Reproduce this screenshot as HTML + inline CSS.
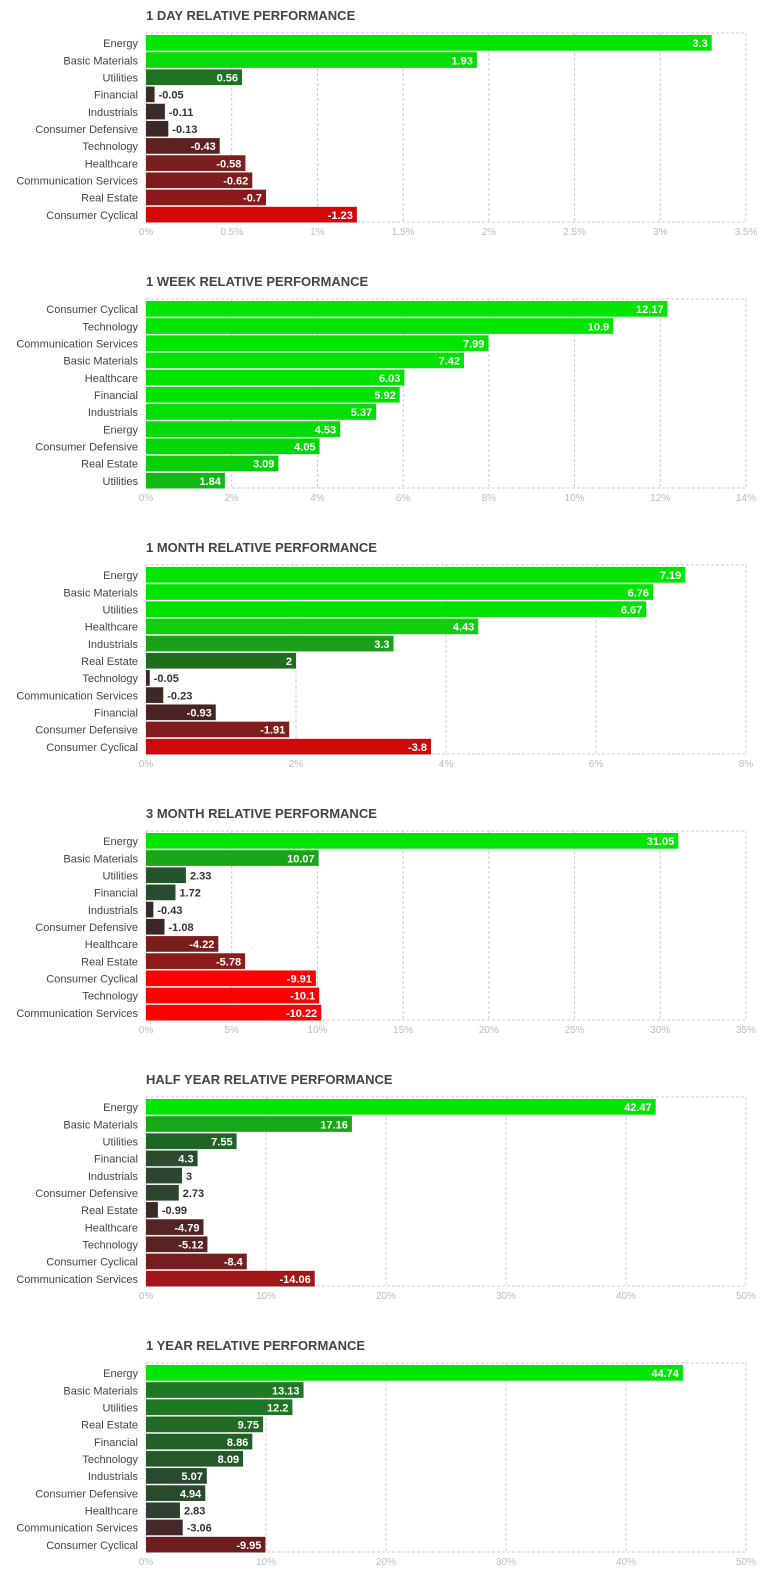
<!DOCTYPE html>
<html><head><meta charset="utf-8"><style>
html,body{margin:0;padding:0;background:#fff;width:775px;height:1583px;overflow:hidden}
svg{display:block}
</style></head><body>
<svg id="chart" width="775" height="1583" xmlns="http://www.w3.org/2000/svg" font-family="'Liberation Sans', sans-serif"></svg>
<script>
const titles = ["1 DAY RELATIVE PERFORMANCE","1 WEEK RELATIVE PERFORMANCE","1 MONTH RELATIVE PERFORMANCE","3 MONTH RELATIVE PERFORMANCE","HALF YEAR RELATIVE PERFORMANCE","1 YEAR RELATIVE PERFORMANCE"];
const cats1 = ["Energy","Basic Materials","Utilities","Financial","Industrials","Consumer Defensive","Technology","Healthcare","Communication Services","Real Estate","Consumer Cyclical"];
const vals1 = [3.3,1.93,0.56,-0.05,-0.11,-0.13,-0.43,-0.58,-0.62,-0.7,-1.23];
const cats2 = ["Consumer Cyclical","Technology","Communication Services","Basic Materials","Healthcare","Financial","Industrials","Energy","Consumer Defensive","Real Estate","Utilities"];
const vals2 = [12.17,10.9,7.99,7.42,6.03,5.92,5.37,4.53,4.05,3.09,1.84];
const cats3 = ["Energy","Basic Materials","Utilities","Healthcare","Industrials","Real Estate","Technology","Communication Services","Financial","Consumer Defensive","Consumer Cyclical"];
const vals3 = [7.19,6.76,6.67,4.43,3.3,2,-0.05,-0.23,-0.93,-1.91,-3.8];
const cats4 = ["Energy","Basic Materials","Utilities","Financial","Industrials","Consumer Defensive","Healthcare","Real Estate","Consumer Cyclical","Technology","Communication Services"];
const vals4 = [31.05,10.07,2.33,1.72,-0.43,-1.08,-4.22,-5.78,-9.91,-10.1,-10.22];
const cats5 = ["Energy","Basic Materials","Utilities","Financial","Industrials","Consumer Defensive","Real Estate","Healthcare","Technology","Consumer Cyclical","Communication Services"];
const vals5 = [42.47,17.16,7.55,4.3,3,2.73,-0.99,-4.79,-5.12,-8.4,-14.06];
const cats6 = ["Energy","Basic Materials","Utilities","Real Estate","Financial","Technology","Industrials","Consumer Defensive","Healthcare","Communication Services","Consumer Cyclical"];
const vals6 = [44.74,13.13,12.2,9.75,8.86,8.09,5.07,4.94,2.83,-3.06,-9.95];
const ticks1 = [0,0.5,1,1.5,2,2.5,3,3.5];
const ticks2 = [0,2,4,6,8,10,12,14];
const ticks3 = [0,2,4,6,8];
const ticks4 = [0,5,10,15,20,25,30,35];
const ticks5 = [0,10,20,30,40,50];
const ticks6 = [0,10,20,30,40,50];
const colors1 = ["#00e600","#08dc08","#1e741e","#3a2a2a","#3b2a2a","#3d2828","#5c2222","#7a1e1e","#7d1d1d","#8a1a1a","#d40808"];
const colors2 = ["#00e600","#00e600","#00e600","#00e600","#00e200","#00e200","#02df02","#03dc03","#04d804","#08d008","#12b912"];
const colors3 = ["#00e600","#00e600","#00e200","#0fcf0f","#1ba01b","#1f6e1f","#3a2a2a","#3b2929","#4a2424","#801d1d","#cc0a0a"];
const colors4 = ["#00e600","#18a518","#24552a","#2a4a2e","#332c2c","#3a2828","#7a1d1d","#8f1a1a","#ff0000","#ff0000","#ff0000"];
const colors5 = ["#00e600","#17a817","#1f6524","#2b4a2e","#2c4430","#2d4430","#3a2a2a","#552424","#582424","#741e1e","#a11616"];
const colors6 = ["#00e600","#1e7a22","#1e7722","#206a25","#236026","#245a28","#2a4a2e","#2a4a2e","#2e3e31","#472828","#6e1e1e"];
const panels = [[cats1,vals1,ticks1,colors1],[cats2,vals2,ticks2,colors2],[cats3,vals3,ticks3,colors3],[cats4,vals4,ticks4,colors4],[cats5,vals5,ticks5,colors5],[cats6,vals6,ticks6,colors6]];
const NS = "http://www.w3.org/2000/svg";
const svg = document.getElementById('chart');
const X0 = 146, X1 = 746, PANEL = 266, TOP = 33, PH = 189;
function mk(tag, attrs, parent){const e=document.createElementNS(NS,tag);for(const k in attrs)e.setAttribute(k,attrs[k]);(parent||svg).appendChild(e);return e;}
panels.forEach((p,pi)=>{
  const [cats,vals,ticks,cols]=p;
  const oy = pi*PANEL;
  const g = mk('g',{});
  
  
  const max = ticks[ticks.length-1];
  const xs = v => X0 + (v/max)*(X1-X0);
  const t = mk('text',{x:X0,y:oy+20,'font-size':13,'font-weight':'bold',fill:'#444'},g);
  t.textContent = titles[pi];
  
  
  ticks.forEach(tv=>{
    const x = xs(tv);
    if(tv>0){const l=mk('line',{x1:x,x2:x,y1:oy+TOP,y2:oy+TOP+PH,stroke:'#ccc','stroke-dasharray':'3,2'},g);
      
      }
    const tl = mk('text',{x:x,y:oy+TOP+PH+13,'font-size':10,fill:'#bbb','text-anchor':'middle'},g);
    tl.textContent = tv+'%';
    
    
  });
  const b = mk('rect',{x:X0,y:oy+TOP,width:X1-X0,height:PH,fill:'none',stroke:'#ccc','stroke-dasharray':'3,2'},g);
  
  
  const rh = PH/cats.length;
  cats.forEach((c,i)=>{
    const y = oy+TOP+2+i*rh;
    const w = xs(Math.abs(vals[i]))-X0;
    const r = mk('rect',{x:X0,y:y,width:w,height:rh-1.5,fill:cols[i]},g);
    
    
    const cl = mk('text',{x:138,y:y+rh/2+3.5,'font-size':11,fill:'#444','text-anchor':'end'},g);
    cl.textContent = c;
    
    
    const label = String(vals[i]);
    const inside = w > 45;
    const vl = mk('text',{x:inside?X0+w-4:X0+w+4,y:y+rh/2+3.5,'font-size':11,'font-weight':'bold',fill:inside?'#fff':'#333','text-anchor':inside?'end':'start'},g);
    vl.textContent = label;
    
    
  });
});
</script>
</body></html>
